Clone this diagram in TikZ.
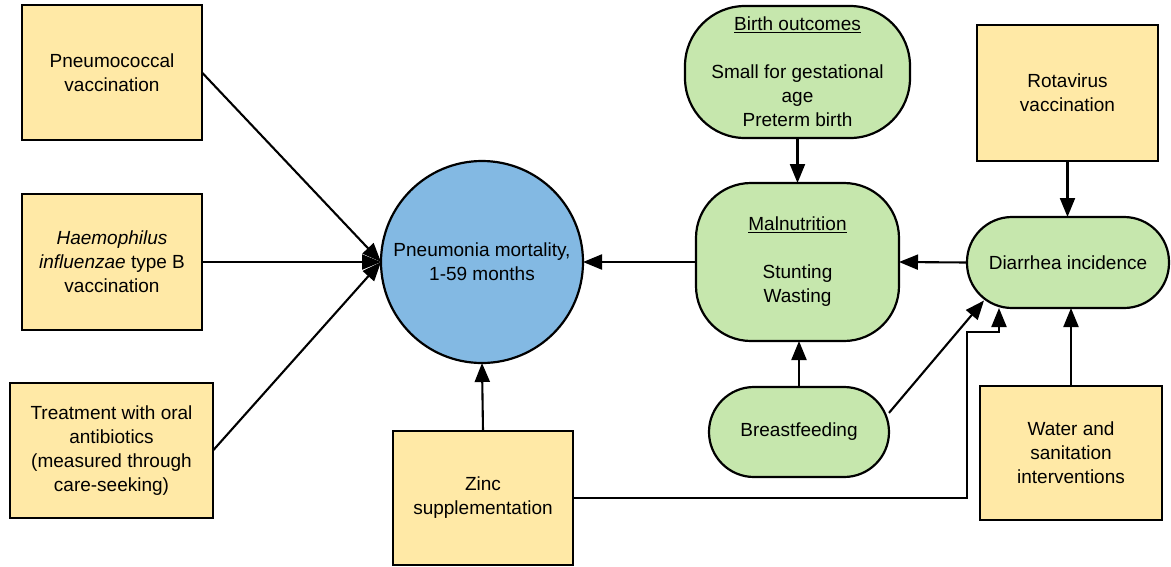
\documentclass[tikz,border=0pt]{standalone}
\usepackage{fontspec}
\setmainfont{Liberation Sans}
\usetikzlibrary{arrows.meta,calc}
\definecolor{boxy}{HTML}{FFE9A6}
\definecolor{greenf}{HTML}{C6E7AD}
\definecolor{bluef}{HTML}{83B9E3}
\begin{document}
\begin{tikzpicture}[x=1pt,y=-1pt,
  every node/.style={font=\fontsize{19}{24}\selectfont, align=center, inner sep=0pt, outer sep=0pt},
  ybox/.style={rectangle, draw, line width=2.2pt, fill=boxy, minimum height=135pt},
  gbox/.style={rectangle, draw, line width=2.2pt, fill=greenf, rounded corners=#1},
  arr/.style={line width=2.1pt, -{Triangle[length=19pt,width=15pt]}}
]
\useasboundingbox[fill=white] (0,0) rectangle (1171,566);

% yellow boxes
\node[ybox, minimum width=180pt] (pneu) at (112,72.5) {Pneumococcal\\vaccination};
\node[ybox, minimum width=180pt, minimum height=136pt] (hib) at (112,262) {\textit{Haemophilus}\\\textit{influenzae} type B\\vaccination};
\node[ybox, minimum width=203pt] (treat) at (111.5,450.5) {Treatment with oral\\antibiotics\\(measured through\\care-seeking)};
\node[ybox, minimum width=180pt, minimum height=134pt] (zinc) at (483,498) {Zinc\\supplementation};
\node[ybox, minimum width=181pt, minimum height=136pt] (rota) at (1067.5,93) {Rotavirus\\vaccination};
\node[ybox, minimum width=182pt, minimum height=134pt] (water) at (1071,453) {Water and\\sanitation\\interventions};

% circle
\node[circle, draw, line width=2.2pt, fill=bluef, minimum size=202pt] (pm) at (482,262) {Pneumonia mortality,\\1-59 months};

% green shapes
\node[gbox=60pt, minimum width=225pt, minimum height=132pt] (birth) at (797.5,72) {\underline{Birth outcomes}\\[24pt]Small for gestational\\age\\Preterm birth};
\node[gbox=55pt, minimum width=203pt, minimum height=158pt] (mal) at (797.5,262) {\underline{Malnutrition}\\[24pt]Stunting\\Wasting};
\node[gbox=45pt, minimum width=180pt, minimum height=90pt] (bf) at (799,432) {Breastfeeding};
\node[gbox=45pt, minimum width=202pt, minimum height=91pt] (diar) at (1068,262.5) {Diarrhea incidence};

% connectors
\draw[arr] (pneu.east) -- (pm.west);
\draw[arr] (hib.east) -- (pm.west);
\draw[arr] (treat.east) -- (pm.west);
\draw[arr] (zinc.north) -- (pm.south);
\draw[arr] (mal.west) -- (pm.east);
\draw[arr] (birth.south) -- (mal.north);
\draw[arr] (bf.north) -- (mal.south -| bf.north);
\draw[arr] (diar.west) -- (mal.east);
\draw[arr] (rota.south) -- (diar.north -| rota.south);
\draw[arr] (water.north) -- (diar.south -| water.north);
\draw[arr] (bf.12) -- ($(diar.center)+(-84,38)$);
\coordinate (zk) at (967,332);
\draw[arr] (zinc.east) -| (zk) -| ($(diar.south)+(-69,0)$);
\end{tikzpicture}
\end{document}
